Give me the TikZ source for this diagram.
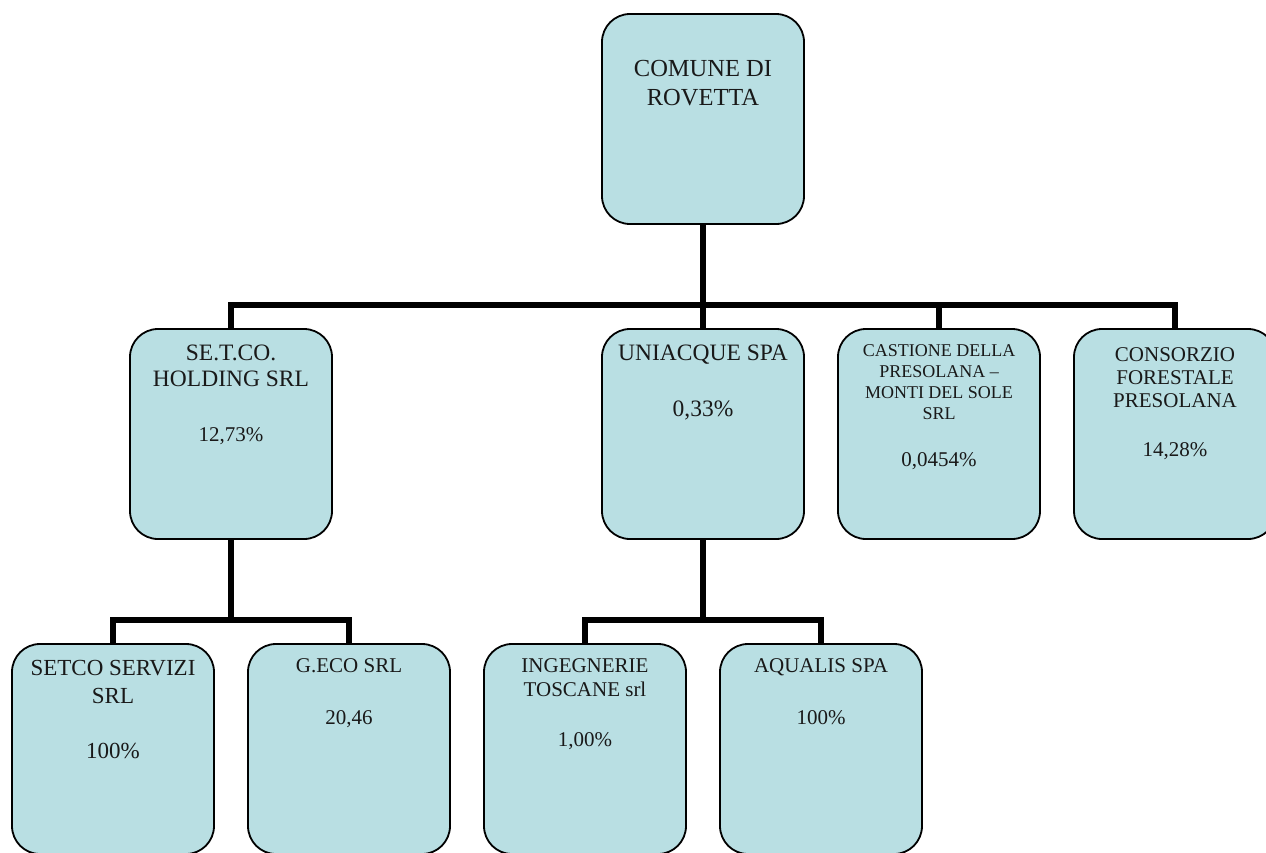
\documentclass[tikz,border=0pt]{standalone}
\usepackage{fontspec}
\setmainfont{Liberation Serif}
\usetikzlibrary{positioning}
\definecolor{boxblue}{RGB}{185,223,227}
\newcommand{\pcfont}{\fontsize{21}{21}\selectfont}
\tikzset{
    orgbox/.style={draw=black, line width=1.8pt, fill=boxblue, rounded corners=28pt,
        minimum width=202pt, minimum height=210pt, inner sep=0pt},
    boxtext/.style={align=center, inner sep=0pt, text=black!90},
    link/.style={line width=6pt, line join=miter},
}

\begin{document}
\begin{tikzpicture}[x=1pt, y=-1pt]
        \useasboundingbox (0,0) rectangle (1266,852);
        \clip (0,0) rectangle (1266,852);
        % Bus heights
        \coordinate (bus1) at (0,305);
        \coordinate (bus2) at (0,620);
        % Draw boxes (Vertices/Nodes)
        \node[orgbox] (comune) at (703,119) {};
        \node[orgbox] (setco) at (231,434) {};
        \node[orgbox] (uniacque) at (703,434) {};
        \node[orgbox] (castione) at (939,434) {};
        \node[orgbox] (consorzio) at (1175,434) {};
        \node[orgbox] (servizi) at (113,749) {};
        \node[orgbox] (geco) at (349,749) {};
        \node[orgbox] (ingegnerie) at (585,749) {};
        \node[orgbox] (aqualis) at (821,749) {};
        % Box texts
        \node[boxtext, font=\fontsize{24.5}{29}\selectfont, below=47pt of comune.north] (comunetxt)
            {COMUNE DI\\ROVETTA};
        \node[boxtext, font=\fontsize{23.5}{26}\selectfont, below=17pt of setco.north] (setcotxt)
            {SE.T.CO.\\HOLDING SRL\\[29pt]{\pcfont 12,73\%}};
        \node[boxtext, font=\fontsize{23.5}{28}\selectfont, below=17pt of uniacque.north] (uniacquetxt)
            {UNIACQUE SPA\\[28pt]0,33\%};
        \node[boxtext, font=\fontsize{18}{21}\selectfont, below=16pt of castione.north] (castionetxt)
            {CASTIONE DELLA\\PRESOLANA --\\MONTI DEL SOLE\\SRL\\[26pt]{\pcfont 0,0454\%}};
        \node[boxtext, font=\fontsize{21}{23}\selectfont, below=19pt of consorzio.north] (consorziotxt)
            {CONSORZIO\\FORESTALE\\PRESOLANA\\[26pt]14,28\%};
        \node[boxtext, font=\fontsize{23}{28}\selectfont, below=17pt of servizi.north] (servizitxt)
            {SETCO SERVIZI\\SRL\\[27pt]100\%};
        \node[boxtext, font=\fontsize{21}{24}\selectfont, below=15pt of geco.north] (gecotxt)
            {G.ECO SRL\\[28pt]20,46};
        \node[boxtext, font=\fontsize{21}{24}\selectfont, below=15pt of ingegnerie.north] (ingegnerietxt)
            {INGEGNERIE\\TOSCANE srl\\[26pt]1,00\%};
        \node[boxtext, font=\fontsize{21}{24}\selectfont, below=15pt of aqualis.north] (aqualistxt)
            {AQUALIS SPA\\[28pt]100\%};
        % Draw box connects (Edges)
        \foreach \x in {setco,uniacque,castione,consorzio}
            \draw[link] (comune.south) -- (comune.south |- bus1) -| (\x.north);
        \foreach \x in {servizi,geco}
            \draw[link] (setco.south) -- (setco.south |- bus2) -| (\x.north);
        \foreach \x in {ingegnerie,aqualis}
            \draw[link] (uniacque.south) -- (uniacque.south |- bus2) -| (\x.north);
\end{tikzpicture}
\end{document}
